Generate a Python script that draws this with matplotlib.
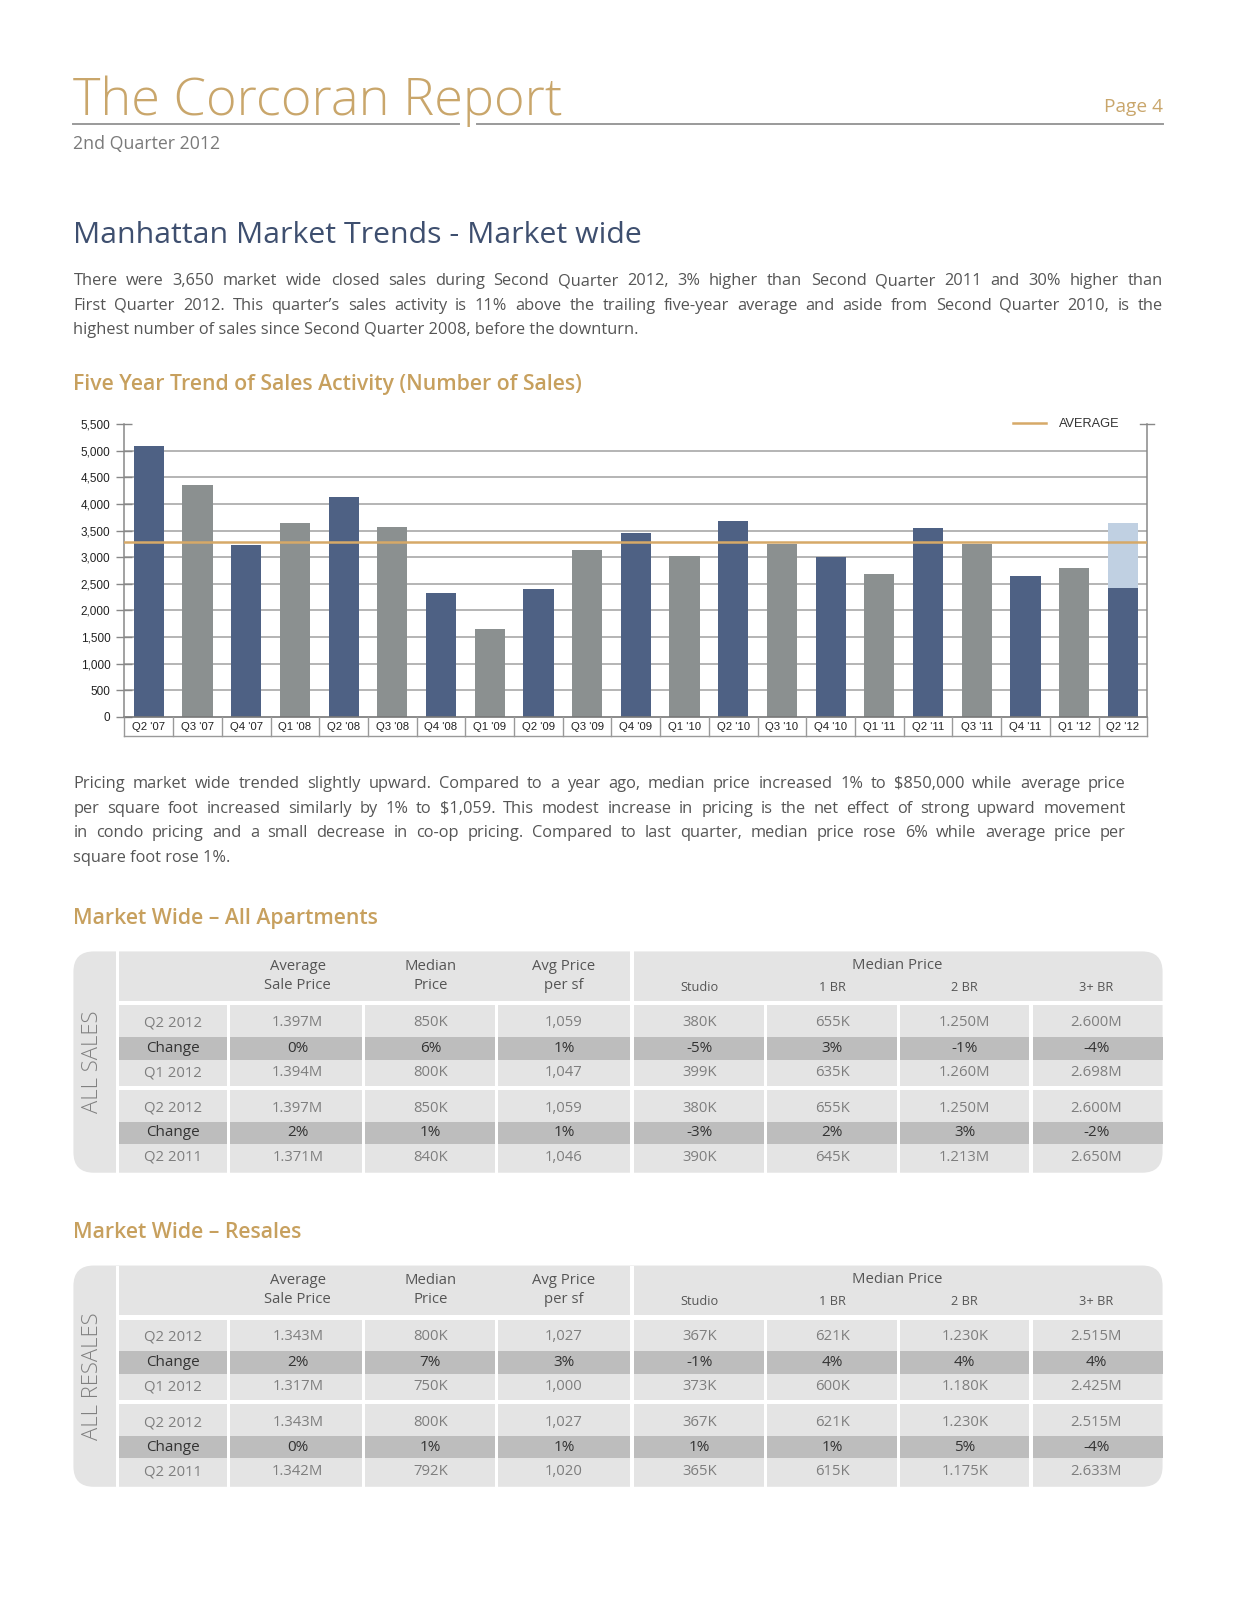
import matplotlib
matplotlib.use('Agg')
import matplotlib.pyplot as plt
from matplotlib.patches import FancyBboxPatch, Rectangle
from matplotlib.lines import Line2D

# ---- data ----
quarters = ["Q2 '07", "Q3 '07", "Q4 '07", "Q1 '08", "Q2 '08", "Q3 '08", "Q4 '08",
            "Q1 '09", "Q2 '09", "Q3 '09", "Q4 '09", "Q1 '10", "Q2 '10", "Q3 '10",
            "Q4 '10", "Q1 '11", "Q2 '11", "Q3 '11", "Q4 '11", "Q1 '12", "Q2 '12"]
sales = [5085, 4366, 3237, 3647, 4124, 3566, 2326, 1643, 2412, 3132, 3448,
         3026, 3680, 3243, 3001, 2685, 3545, 3243, 2648, 2805, 2425]
q2_12_total = 3650
average_sales = 3290
y_ticks = [0, 500, 1000, 1500, 2000, 2500, 3000, 3500, 4000, 4500, 5000, 5500]

head_left = ["Average\nSale Price", "Median\nPrice", "Avg Price\nper sf"]
head_right = ["Studio", "1 BR", "2 BR", "3+ BR"]

all_q2_2012 = ["1.397M", "850K", "1,059", "380K", "655K", "1.250M", "2.600M"]
all_chg_qoq = ["0%", "6%", "1%", "-5%", "3%", "-1%", "-4%"]
all_q1_2012 = ["1.394M", "800K", "1,047", "399K", "635K", "1.260M", "2.698M"]
all_chg_yoy = ["2%", "1%", "1%", "-3%", "2%", "3%", "-2%"]
all_q2_2011 = ["1.371M", "840K", "1,046", "390K", "645K", "1.213M", "2.650M"]

res_q2_2012 = ["1.343M", "800K", "1,027", "367K", "621K", "1.230K", "2.515M"]
res_chg_qoq = ["2%", "7%", "3%", "-1%", "4%", "4%", "4%"]
res_q1_2012 = ["1.317M", "750K", "1,000", "373K", "600K", "1.180K", "2.425M"]
res_chg_yoy = ["0%", "1%", "1%", "1%", "1%", "5%", "-4%"]
res_q2_2011 = ["1.342M", "792K", "1,020", "365K", "615K", "1.175K", "2.633M"]

para1 = ["There were 3,650 market wide closed sales during Second Quarter 2012, 3% higher than Second Quarter 2011 and 30% higher than",
         "First Quarter 2012. This quarter\u2019s sales activity is 11% above the trailing five-year average and aside from Second Quarter 2010, is the",
         "highest number of sales since Second Quarter 2008, before the downturn."]
para2 = ["Pricing market wide trended slightly upward.  Compared to a year ago, median price increased 1% to $850,000 while average price",
         "per square foot increased similarly by 1% to $1,059. This modest increase in pricing is the net effect of strong upward movement",
         "in condo pricing and a small decrease in co-op pricing. Compared to last quarter, median price rose 6% while average price per",
         "square foot rose 1%."]

GOLD = '#C9A66B'
GOLD2 = '#C7A05E'
NAVY = '#3E4F6F'
BAR_NAVY = '#4E6184'
BAR_GRAY = '#8B9090'
BAR_LIGHT = '#C0D0E2'
AVG = '#D6A968'
FONT = ['Open Sans', 'DejaVu Sans']
CHART_FONT = ['Liberation Sans', 'DejaVu Sans']

# page laid out in units slightly smaller than pixels
W, H = 1212, 1569
K = 1236 / W


def fs(v):
    return v * K


fig = plt.figure(figsize=(12.36, 16), dpi=100)
page = fig.add_axes([0, 0, 1, 1])
page.set_xlim(0, W)
page.set_ylim(H, 0)
page.axis('off')
renderer = fig.canvas.get_renderer()


def put_line(text, x0, x1, y, justify, **kw):
    if not justify:
        page.text(x0, y, text, va='center', ha='left', **kw)
        return
    words = text.split()
    arts = [page.text(0, y, w, va='center', ha='left', **kw) for w in words]
    widths = [a.get_window_extent(renderer).width / K for a in arts]
    gap = (x1 - x0 - sum(widths)) / (len(words) - 1)
    x = x0
    for a, w in zip(arts, widths):
        a.set_x(x)
        x += w + gap


# ---- header ----
page.text(72, 113, "The Corcoran Report", color=GOLD, fontsize=fs(37), family=FONT,
          fontweight='light', va='baseline')
page.text(1140, 105, "Page 4", color=GOLD, fontsize=fs(13.5), family=FONT, ha='right', va='center')
page.plot([72, 450], [122, 122], color='#9A9A9A', lw=1.4)
page.plot([468, 1140], [122, 122], color='#9A9A9A', lw=1.4)
page.text(72, 141, "2nd Quarter 2012", color='#7A7A7A', fontsize=fs(12.5), family=FONT, va='center')

page.text(72, 231, "Manhattan Market Trends - Market wide", color=NAVY, fontsize=fs(21.4),
          family=FONT, va='center')
for i, line in enumerate(para1):
    put_line(line, 72, 1140, 276 + 24 * i, i < len(para1) - 1,
             color='#555555', fontsize=fs(11.6), family=FONT)

page.text(72, 377, "Five Year Trend of Sales Activity (Number of Sales)", color=GOLD2,
          fontsize=fs(15), family=FONT, fontweight='semibold', va='center')

for i, line in enumerate(para2):
    put_line(line, 72, 1104, 769 + 24 * i, i < len(para2) - 1,
             color='#555555', fontsize=fs(11.6), family=FONT)

page.text(72, 901, "Market Wide \u2013 All Apartments", color=GOLD2, fontsize=fs(15),
          family=FONT, fontweight='semibold', va='center')
page.text(72, 1209, "Market Wide \u2013 Resales", color=GOLD2, fontsize=fs(15),
          family=FONT, fontweight='semibold', va='center')

# ---- bar chart ----
L, R, T, B = 122, 1125, 416, 703
ax = fig.add_axes([L / W, 1 - B / H, (R - L) / W, (B - T) / H])
ax.patch.set_alpha(0)
x = list(range(len(quarters)))
colors = [BAR_NAVY if i % 2 == 0 else BAR_GRAY for i in x]
ax.bar(x, sales, width=0.62, color=colors, zorder=2)
ax.bar([x[-1]], [q2_12_total - sales[-1]], bottom=[sales[-1]], width=0.62,
       color=BAR_LIGHT, zorder=2)
ax.axhline(average_sales, color=AVG, lw=1.8, zorder=3)
ax.set_xlim(-0.5, len(quarters) - 0.5)
ax.set_ylim(0, 5500)
ax.set_yticks(y_ticks)
ax.set_yticklabels([f"{v:,}" for v in y_ticks], family=CHART_FONT, fontsize=fs(8.3), color='#222222')
for v in y_ticks[1:-1]:
    ax.axhline(v, color='#A0A0A0', lw=1.1, zorder=1)
ax.tick_params(axis='y', direction='inout', length=12, width=1, color='#888888', pad=4)
ax.set_xticks([])
for s in ['top', 'bottom']:
    ax.spines[s].set_visible(False)
for s in ['left', 'right']:
    ax.spines[s].set_color('#888888')
    ax.spines[s].set_linewidth(1.1)
# tick at top of right axis
ax.plot([0.993, 1.007], [5500, 5500], transform=ax.get_yaxis_transform(),
        color='#888888', lw=1, clip_on=False)

# category label boxes under the axis
xt = ax.get_xaxis_transform()
row_h = 19 / (B - T)
ax.plot([-0.5, len(quarters) - 0.5], [0, 0], transform=xt, color='#777777', lw=1.2, clip_on=False)
ax.plot([-0.5, len(quarters) - 0.5], [-row_h, -row_h], transform=xt, color='#999999', lw=1, clip_on=False)
for i in range(len(quarters) + 1):
    ax.plot([i - 0.5, i - 0.5], [0, -row_h], transform=xt, color='#999999', lw=1, clip_on=False)
for i, q in enumerate(quarters):
    ax.text(i, -row_h / 2, q, transform=xt, ha='center', va='center', fontsize=fs(8),
            family=CHART_FONT, color='#222222')

leg = ax.legend(handles=[Line2D([], [], color=AVG, lw=1.8)], labels=["AVERAGE"],
                loc='center right', bbox_to_anchor=(0.984, 1.0), frameon=False,
                handlelength=2.6, handletextpad=1.0, prop={'family': CHART_FONT, 'size': fs(9)})
for t in leg.get_texts():
    t.set_color('#333333')

# ---- tables ----
col_sep = [224, 356, 487, 751, 881, 1011]
col_ctr = [292, 422, 553, 686, 816, 946, 1075]


def draw_table(y0, side, rows):
    h = 217
    page.add_patch(FancyBboxPatch((72, y0), 1068, h, boxstyle='round,pad=0,rounding_size=20',
                                  fc='#E4E4E4', ec='none', zorder=1))
    # change bands
    for yc in (y0 + 95, y0 + 178):
        page.add_patch(Rectangle((117, yc - 11), 1023, 22, fc='#BDBDBD', ec='none', zorder=2))
    # white separators
    page.add_patch(Rectangle((114, y0), 3, h, fc='white', ec='none', zorder=3))
    page.add_patch(Rectangle((618, y0), 4, h, fc='white', ec='none', zorder=3))
    page.add_patch(Rectangle((117, y0 + 49), 1023, 4, fc='white', ec='none', zorder=3))
    page.add_patch(Rectangle((117, y0 + 132), 1023, 4, fc='white', ec='none', zorder=3))
    for xs in col_sep:
        page.add_patch(Rectangle((xs - 1.5, y0 + 53), 3, h - 53, fc='white', ec='none', zorder=3))
    # side label
    page.text(91, y0 + h / 2, side, rotation=90, ha='center', va='center', color='#808080',
              fontsize=fs(15.5), family=FONT, fontweight='light', zorder=4)
    # header
    for cx, t in zip(col_ctr[:3], head_left):
        page.text(cx, y0 + 24, t, ha='center', va='center', color='#555555', fontsize=fs(10.5),
                  family=FONT, linespacing=1.3, zorder=4)
    page.text(880, y0 + 14, "Median Price", ha='center', va='center', color='#555555',
              fontsize=fs(10.5), family=FONT, zorder=4)
    for cx, t in zip(col_ctr[3:], head_right):
        page.text(cx, y0 + 35, t, ha='center', va='center', color='#555555', fontsize=fs(9),
                  family=FONT, zorder=4)
    # data rows
    ys = [y0 + 70, y0 + 95, y0 + 119, y0 + 154, y0 + 178, y0 + 202]
    for yc, (lab, vals) in zip(ys, rows):
        chg = lab == "Change"
        kw = dict(color='#333333' if chg else '#7E7E7E', fontsize=fs(10.8 if chg else 10.5),
                  family=FONT, fontweight='medium' if chg else 'normal',
                  ha='center', va='center', zorder=4)
        page.text(170, yc, lab, **kw)
        for cx, v in zip(col_ctr, vals):
            page.text(cx, yc, v, **kw)


draw_table(933, "ALL SALES", [("Q2 2012", all_q2_2012), ("Change", all_chg_qoq),
                              ("Q1 2012", all_q1_2012), ("Q2 2012", all_q2_2012),
                              ("Change", all_chg_yoy), ("Q2 2011", all_q2_2011)])
draw_table(1241, "ALL RESALES", [("Q2 2012", res_q2_2012), ("Change", res_chg_qoq),
                                 ("Q1 2012", res_q1_2012), ("Q2 2012", res_q2_2012),
                                 ("Change", res_chg_yoy), ("Q2 2011", res_q2_2011)])

fig.savefig('out.png', dpi=100)
